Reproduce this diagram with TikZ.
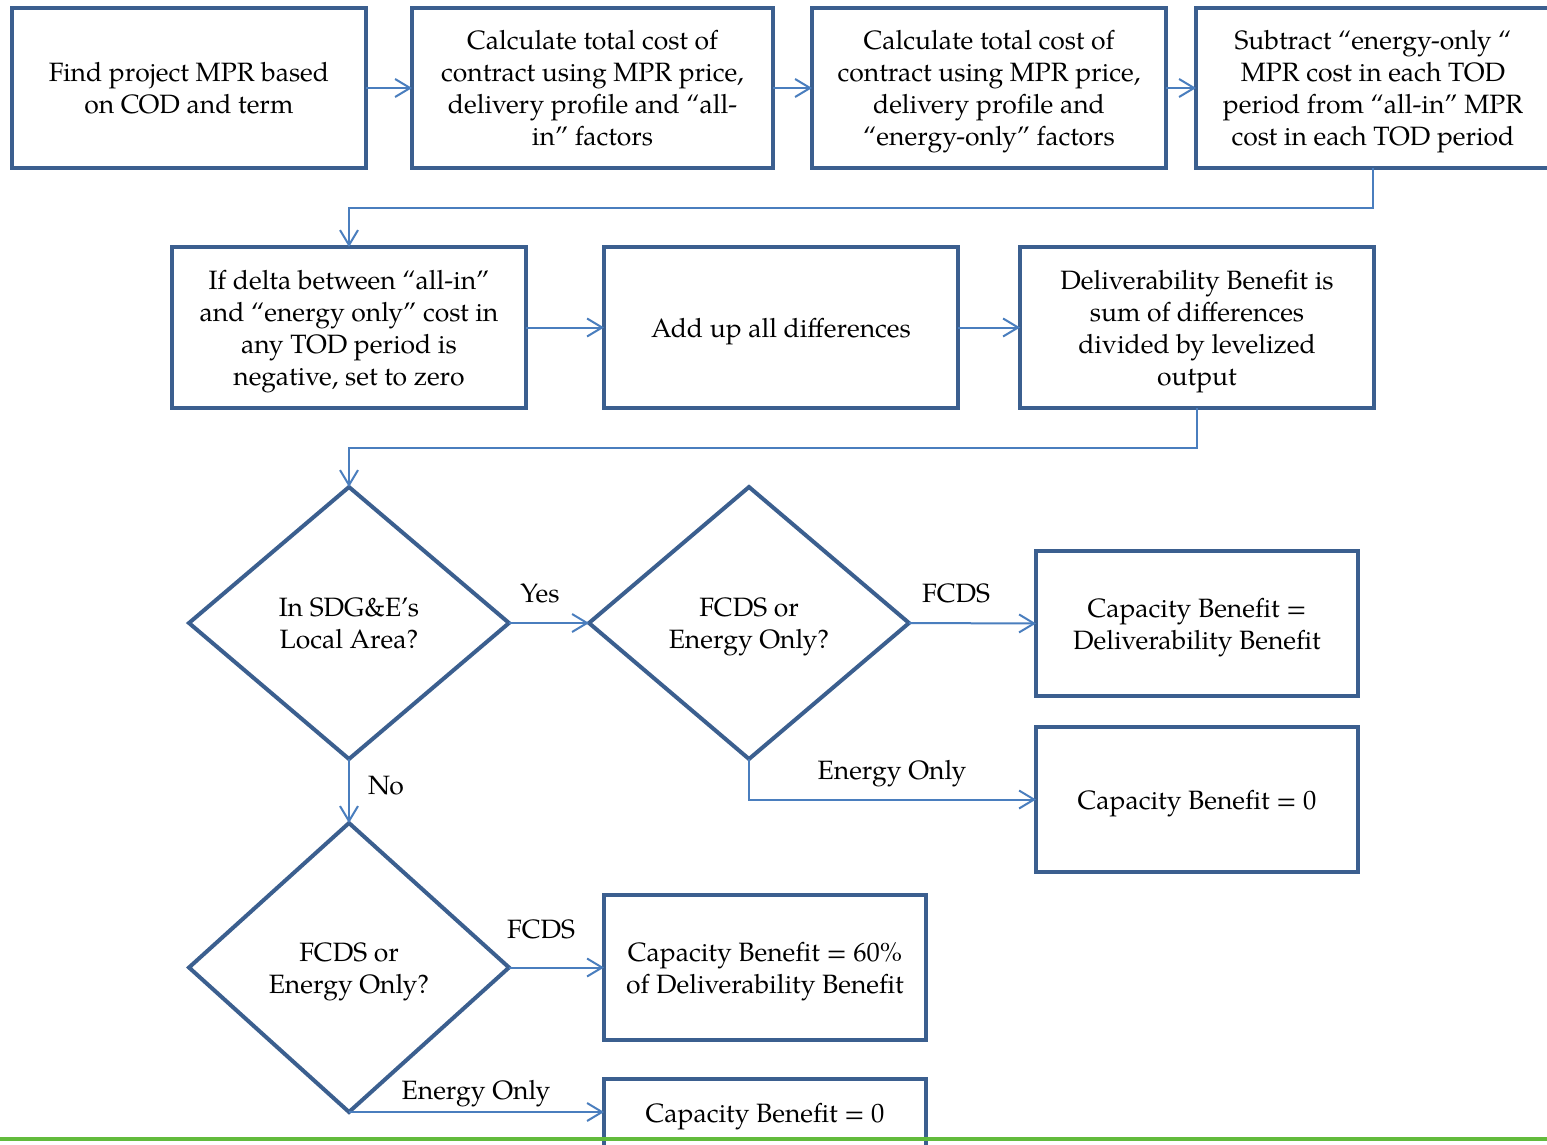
\documentclass[tikz,border=0pt]{standalone}
\usepackage{fontspec}
\setmainfont{TeX Gyre Pagella}
\usetikzlibrary{shapes.geometric,arrows.meta,calc}
\definecolor{boxblue}{RGB}{59,95,143}
\definecolor{linkblue}{RGB}{74,126,190}
\definecolor{rulegreen}{RGB}{98,187,60}
\newcommand{\fs}{\rule[-9.6pt]{0pt}{39pt}}
\tikzset{
  procbox/.style={draw=boxblue, line width=4pt, rectangle, align=center, inner sep=0pt, outer sep=0pt, minimum width=354pt, minimum height=160pt, font=\fontsize{26.5}{32}\selectfont},
  smallbox/.style={procbox, minimum width=322pt, minimum height=145pt},
  decision/.style={draw=boxblue, line width=4pt, diamond, aspect=1.18, align=center, inner sep=0pt, outer sep=0pt, minimum width=320pt, minimum height=272pt, font=\fontsize{26.5}{32}\selectfont},
  link/.style={draw=linkblue, line width=2pt, -{Straight Barb[length=15pt,width=18pt,line width=2pt]}},
  lbl/.style={anchor=base, inner sep=0pt, font=\fontsize{26.5}{32}\selectfont}
}
\begin{document}
\begin{tikzpicture}[x=1pt,y=-1pt]
\clip (0,0) rectangle (1547,1145);
\fill[white] (0,0) rectangle (1547,1145);
% top row
\node[procbox] (b1) at (189,88) {\fs Find project MPR based\\\strut on COD and term};
\node[procbox, minimum width=361pt] (b2) at (592.5,88) {\fs Calculate total cost of\\\strut contract using MPR price,\\\strut delivery profile and “all-\\\strut in” factors};
\node[procbox] (b3) at (989,88) {\fs Calculate total cost of\\\strut contract using MPR price,\\\strut delivery profile and\\\strut “energy-only” factors};
\node[procbox] (b4) at (1373,88) {\fs Subtract “energy-only “\\\strut MPR cost in each TOD\\\strut period from “all-in” MPR\\\strut cost in each TOD period};
% second row
\node[procbox, minimum height=161pt] (b5) at (349,327.5) {\fs If delta between “all-in”\\\strut and “energy only” cost in\\\strut any TOD period is\\\strut negative, set to zero};
\node[procbox, minimum height=161pt] (b6) at (781,327.5) {\fs Add up all differences};
\node[procbox, minimum height=161pt] (b7) at (1197,327.5) {\fs Deliverability Benefit is\\\strut sum of differences\\\strut divided by levelized\\\strut output};
% decisions
\node[decision] (d1) at (349,623) {\fs In SDG\&E’s\\\strut Local Area?};
\node[decision] (d2) at (749,623) {\fs FCDS or\\\strut Energy Only?};
\node[decision, minimum height=289pt, aspect=1.1] (d3) at (349,967.5) {\fs FCDS or\\\strut Energy Only?};
% result boxes
\node[smallbox] (b8) at (1197,623.5) {\fs Capacity Benefit =\\\strut Deliverability Benefit};
\node[smallbox] (b9) at (1197,799.5) {\fs Capacity Benefit = 0};
\node[smallbox] (b10) at (765,967.5) {\fs Capacity Benefit = 60\%\\\strut of Deliverability Benefit};
\node[smallbox, minimum height=68pt] (b11) at (765,1113) {\fs Capacity Benefit = 0};
% connectors
\draw[link] (b1.east) -- (b2.west);
\draw[link] (b2.east) -- (b3.west);
\draw[link] (b3.east) -- (b4.west);
\draw[link] (b4.south) -- ++(0,40) -| (b5.north);
\draw[link] (b5.east) -- (b6.west);
\draw[link] (b6.east) -- (b7.west);
\draw[link] (b7.south) -- ++(0,40) -| (d1.north);
\draw[link] (d1.east) -- (d2.west);
\draw[link] (d2.east) -- (b8.west);
\draw[link] (d2.south) |- (b9.west);
\draw[link] (d1.south) -- (d3.north);
\draw[link] (d3.east) -- (b10.west);
\draw[link] (d3.south) -- (d3.south -| b11.west);
% labels
\node[lbl] (lyes) at (540,602) {Yes};
\node[lbl] (lfcds1) at (956,602) {FCDS};
\node[lbl] (leo1) at (892,779) {Energy Only};
\node[lbl] (lno) at (386,794) {No};
\node[lbl] (lfcds2) at (541,938) {FCDS};
\node[lbl] (leo2) at (476,1099) {Energy Only};
% bottom rule
\coordinate (gl) at (0,1139);
\coordinate (gr) at (1547,1139);
\draw[rulegreen, line width=4pt] (gl) -- (gr);
\end{tikzpicture}
\end{document}
